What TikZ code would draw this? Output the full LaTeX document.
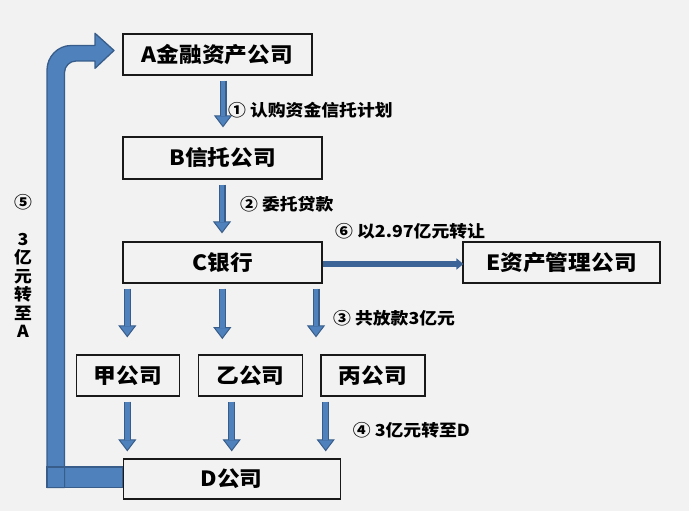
\documentclass[tikz,border=0pt]{standalone}
\usepackage{fontspec}
\usetikzlibrary{arrows.meta,calc}
\newfontfamily\cjk{Noto Sans CJK SC}[FakeStretch=1.08]
\definecolor{bg}{HTML}{F2F2F2}
\definecolor{ablue}{HTML}{4F81BD}
\definecolor{adark}{HTML}{385D8A}
\definecolor{hblue}{HTML}{3C6496}
\begin{document}
\begin{tikzpicture}[x=1pt,y=-1pt,
  box/.style={draw=black!90, line width=1.2pt, fill=bg, inner sep=0pt,
    font=\cjk\bfseries\fontsize{21pt}{25pt}\selectfont},
  lbl/.style={inner sep=0pt, anchor=west, font=\cjk\bfseries\fontsize{16.5pt}{20pt}\selectfont},
  varrow/.style={draw=adark, line width=7pt,
    -{Triangle[width=18pt,length=12pt,line width=1pt,fill=ablue]},
    postaction={draw=ablue, line width=4.6pt, -, shorten >=11.5pt}},
  harrow/.style={draw=hblue, line width=6.6pt,
    -{Triangle[width=11pt,length=7pt]}},
  bigarrow/.style={fill=ablue, draw=adark, line width=1.3pt, line join=round}
]
\useasboundingbox[fill=bg] (0,0) rectangle (689,511);

% boxes
\node[box, minimum width=189pt, minimum height=41pt] (A) at (217.5,54.5) {A金融资产公司};
\node[box, minimum width=199pt, minimum height=42pt] (B) at (222.5,158) {B信托公司};
\node[box, minimum width=199pt, minimum height=41pt] (C) at (222.5,262.5) {C银行};
\node[box, minimum width=197pt, minimum height=41pt] (E) at (561.5,262.5) {E资产管理公司};
\node[box, minimum width=103pt, minimum height=41pt] (jia) at (128,375.5) {甲公司};
\node[box, minimum width=104pt, minimum height=41pt] (yi) at (250.5,375.5) {乙公司};
\node[box, minimum width=104pt, minimum height=41pt] (bing) at (373,375.5) {丙公司};

% big return arrow D -> A
\fill[bigarrow] (47,467) rectangle (123,487.5);
\filldraw[bigarrow] (47,487.5) -- (47,70)
  .. controls (47,56.8) and (57.8,45.5) .. (71,45.5)
  -- (95,45.5) -- (95,33.3) -- (114,50.5) -- (95,68.3) -- (95,61) -- (76,61)
  .. controls (69.7,61) and (64.5,66.2) .. (64.5,72.5)
  -- (64.5,487.5) -- cycle;
\draw[draw=adark, line width=1.3pt] (47,467) rectangle (123,487.5);
\fill[ablue] (48,468) rectangle (63.8,486.8);
\draw[adark, line width=1.3pt] (64.5,467) -- (64.5,487.5);

\node[box, minimum width=217pt, minimum height=40pt] (D) at (231.7,479) {D公司};

% arrows
\draw[varrow] ($(A.south)+(5.5,5)$) -- ($(B.north)+(0.5,-9)$);
\draw[varrow] ($(B.south)+(-0.5,5)$) -- ($(C.north)+(-0.5,-8)$);
\draw[varrow] ($(C.south -| jia.north)+(-0.7,5)$) -- ($(jia.north)+(-0.7,-17)$);
\draw[varrow] ($(C.south)+(-0.2,5)$) -- ($(C.south)+(-0.2,55.5)$);
\draw[varrow] ($(C.south -| bing.north)+(-57,5)$) -- ($(bing.north)+(-57,-17)$);
\draw[varrow] ($(jia.south)+(-0.7,5)$) -- ($(D.north -| jia.south)+(-0.7,-7)$);
\draw[varrow] ($(yi.south)+(-18.8,5)$) -- ($(D.north -| yi.south)+(-18.8,-7)$);
\draw[varrow] ($(bing.south)+(-47.3,5)$) -- ($(D.north -| bing.south)+(-47.3,-7)$);
\draw[harrow] ($(C.east)+(0,1.5)$) -- ($(E.west)+(1,1.5)$);

% labels
\node[lbl] (l1) at (228,110) {① 认购资金信托计划};
\node[lbl] (l2) at (240,204) {② 委托贷款};
\node[lbl] (l6) at (335,231.7) {⑥ 以2.97亿元转让};
\node[lbl] (l3) at (333,318) {③ 共放款3亿元};
\node[lbl] (l4) at (352.7,430.7) {④ 3亿元转至D};
\node[inner sep=0pt, align=center, font=\cjk\bfseries\fontsize{16.5pt}{18.5pt}\selectfont] (l5) at (23,266)
  {⑤\\[18.5pt]3\\亿\\元\\转\\至\\A};
\end{tikzpicture}
\end{document}
